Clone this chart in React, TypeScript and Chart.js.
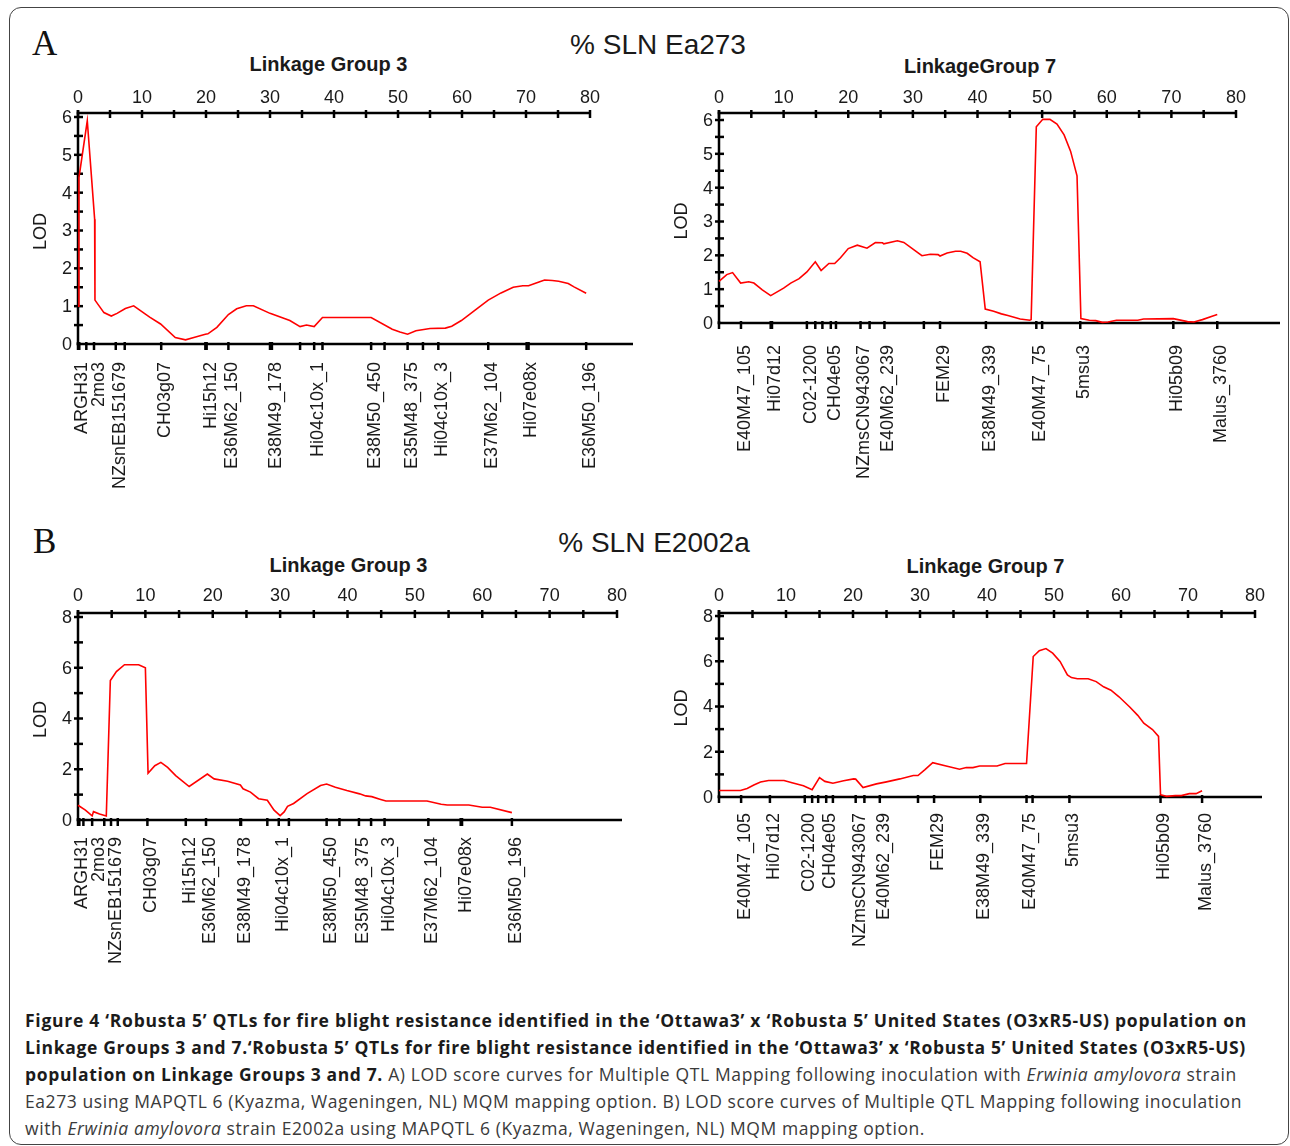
import React, { useEffect, useLayoutEffect, useRef } from 'react';
import { Chart, registerables } from 'chart.js';

Chart.register(...registerables);

// ---------------- DATA ----------------
// Axis tick labels
const X_TICK_LABELS = [0, 10, 20, 30, 40, 50, 60, 70, 80];
const Y_TICK_LABELS_A = [0, 1, 2, 3, 4, 5, 6];
const Y_TICK_LABELS_B = [0, 2, 4, 6, 8];

// A) % SLN Ea273 — Linkage Group 3
const A_LG3_CM = [0, 0.15, 1.45, 2.6, 2.65, 4.05, 5.2, 6.1, 7.4, 8.7, 11.2, 12.9, 15.2, 16.8, 18.1, 19.9, 20.3, 21.7, 23.5, 24.8, 26.3, 27.4, 30.0, 33.1, 34.7, 35.7, 36.9, 38.2, 45.8, 49.1, 50.3, 51.5, 52.8, 55.0, 57.4, 58.4, 59.9, 62.1, 64.1, 66.1, 68.0, 69.5, 70.4, 71.7, 72.9, 74.1, 75.1, 76.6, 77.5, 79.4];
const A_LG3_LOD = [1.0, 4.4, 5.9, 3.3, 1.16, 0.83, 0.74, 0.81, 0.94, 1.01, 0.71, 0.53, 0.17, 0.11, 0.17, 0.26, 0.27, 0.44, 0.78, 0.93, 1.01, 1.01, 0.81, 0.62, 0.46, 0.50, 0.46, 0.70, 0.70, 0.39, 0.32, 0.26, 0.35, 0.41, 0.42, 0.47, 0.62, 0.90, 1.16, 1.35, 1.50, 1.54, 1.54, 1.62, 1.69, 1.68, 1.66, 1.60, 1.51, 1.34];
const A_LG3_MARKER_CM = [0, 0.2, 1.3, 2.5, 5.9, 7.3, 13.0, 19.9, 20.1, 23.5, 30.0, 30.3, 34.7, 36.9, 38.2, 45.8, 47.9, 51.5, 53.9, 56.3, 64.1, 70.1, 70.4, 79.4];
const A_LG3_MARKER_NAMES = ['ARGH31', '', '', '2mo3', 'NZsnEB151679', '', 'CH03g07', '', 'Hi15h12', 'E36M62_150', '', 'E38M49_178', '', 'Hi04c10x_1', '', 'E38M50_450', '', 'E35M48_375', '', 'Hi04c10x_3', 'E37M62_104', 'Hi07e08x', '', 'E36M50_196'];

// A) % SLN Ea273 — Linkage Group 7
const A_LG7_CM = [0, 1.2, 2.1, 3.35, 4.6, 5.4, 6.7, 8.0, 10.0, 11.1, 12.4, 13.6, 14.9, 15.8, 17.0, 17.9, 18.8, 20.0, 21.4, 22.9, 24.2, 25.3, 25.5, 27.6, 28.6, 31.4, 32.7, 33.9, 34.2, 35.3, 36.6, 37.4, 38.4, 39.3, 40.4, 41.2, 42.5, 43.7, 44.7, 46.6, 48.1, 48.3, 49.1, 50.1, 51.2, 52.3, 53.4, 54.4, 55.4, 56.0, 57.3, 58.3, 59.3, 60.2, 61.5, 64.8, 65.7, 70.3, 72.5, 73.5, 74.8, 76.3, 77.1];
const A_LG7_LOD = [1.23, 1.43, 1.49, 1.18, 1.22, 1.18, 0.98, 0.81, 1.03, 1.18, 1.31, 1.51, 1.81, 1.55, 1.76, 1.76, 1.93, 2.2, 2.3, 2.21, 2.38, 2.37, 2.34, 2.43, 2.38, 1.99, 2.03, 2.02, 1.98, 2.07, 2.12, 2.12, 2.06, 1.93, 1.81, 0.41, 0.35, 0.27, 0.22, 0.12, 0.08, 0.10, 5.8, 6.02, 6.02, 5.88, 5.56, 5.08, 4.35, 0.13, 0.08, 0.07, 0.02, 0.03, 0.08, 0.08, 0.12, 0.13, 0.04, 0.03, 0.10, 0.20, 0.25];
const A_LG7_MARKER_CM = [0, 3.4, 8.0, 8.2, 13.6, 14.9, 16.0, 17.3, 18.1, 21.9, 23.3, 25.6, 31.7, 34.2, 41.3, 49.1, 50.0, 55.9, 70.3, 77.1];
const A_LG7_MARKER_NAMES = ['', 'E40M47_105', 'Hi07d12', '', 'C02-1200', '', '', 'CH04e05', '', 'NZmsCN943067', '', 'E40M62_239', '', 'FEM29', 'E38M49_339', 'E40M47_75', '', '5msu3', 'Hi05b09', 'Malus_3760'];

// B) % SLN E2002a — Linkage Group 3
const B_LG3_CM = [0, 1.1, 2.1, 2.3, 3.2, 4.2, 4.8, 5.7, 6.9, 9.0, 10.0, 10.4, 11.4, 12.3, 13.3, 14.5, 16.5, 19.2, 20.2, 22.2, 24.1, 24.5, 25.6, 26.8, 28.1, 29.1, 30.0, 30.6, 31.1, 32.0, 34.0, 36.0, 36.9, 38.2, 39.9, 41.8, 42.7, 43.6, 44.8, 45.7, 51.8, 53.9, 54.8, 58.0, 60.0, 61.2, 64.4];
const B_LG3_LOD = [0.58, 0.39, 0.16, 0.33, 0.24, 0.16, 5.5, 5.85, 6.12, 6.12, 6.0, 1.84, 2.14, 2.27, 2.07, 1.75, 1.32, 1.81, 1.62, 1.53, 1.38, 1.23, 1.10, 0.84, 0.78, 0.39, 0.17, 0.32, 0.54, 0.65, 1.04, 1.36, 1.42, 1.29, 1.16, 1.03, 0.95, 0.92, 0.82, 0.75, 0.75, 0.62, 0.59, 0.59, 0.50, 0.50, 0.29];
const B_LG3_MARKER_CM = [0, 0.2, 0.8, 2.1, 3.9, 4.9, 5.9, 10.3, 16.0, 19.0, 24.1, 24.2, 28.1, 29.8, 31.3, 36.9, 38.8, 41.7, 43.5, 45.5, 52.0, 56.8, 57.0, 64.4];
const B_LG3_MARKER_NAMES = ['ARGH31', '', '', '2mo3', '', 'NZsnEB151679', '', 'CH03g07', 'Hi15h12', 'E36M62_150', '', 'E38M49_178', '', 'Hi04c10x_1', '', 'E38M50_450', '', 'E35M48_375', '', 'Hi04c10x_3', 'E37M62_104', '', 'Hi07e08x', 'E36M50_196'];

// B) % SLN E2002a — Linkage Group 7
const B_LG7_CM = [0, 3.2, 4.2, 5.2, 6.2, 7.4, 9.7, 10.9, 12.6, 13.9, 15.0, 15.8, 17.0, 18.6, 20.1, 20.4, 21.5, 23.5, 25.0, 27.0, 29.0, 29.7, 30.7, 31.9, 33.9, 35.9, 36.9, 37.9, 38.9, 41.5, 42.7, 45.9, 46.9, 47.8, 48.8, 49.8, 50.9, 52.0, 52.6, 53.5, 55.1, 56.3, 57.4, 58.5, 59.7, 61.3, 62.5, 63.4, 64.7, 65.6, 65.9, 66.8, 68.1, 69.0, 70.2, 71.2, 72.1];
const B_LG7_LOD = [0.29, 0.29, 0.38, 0.53, 0.66, 0.73, 0.73, 0.63, 0.50, 0.32, 0.86, 0.69, 0.61, 0.72, 0.80, 0.79, 0.42, 0.58, 0.67, 0.80, 0.95, 0.95, 1.20, 1.52, 1.37, 1.23, 1.30, 1.30, 1.37, 1.37, 1.48, 1.48, 6.21, 6.47, 6.56, 6.36, 5.99, 5.40, 5.28, 5.23, 5.23, 5.10, 4.87, 4.72, 4.43, 3.98, 3.61, 3.26, 2.98, 2.68, 0.10, 0.03, 0.06, 0.06, 0.15, 0.15, 0.28];
const B_LG7_MARKER_CM = [0, 3.3, 7.6, 12.8, 13.9, 14.8, 16.0, 17.0, 20.4, 21.7, 24.0, 29.7, 32.1, 39.0, 45.9, 46.8, 52.3, 65.9, 72.1];
const B_LG7_MARKER_NAMES = ['', 'E40M47_105', 'Hi07d12', 'C02-1200', '', '', 'CH04e05', '', 'NZmsCN943067', '', 'E40M62_239', '', 'FEM29', 'E38M49_339', 'E40M47_75', '', '5msu3', 'Hi05b09', 'Malus_3760'];

// ---------------- LAYOUT ----------------
const FONT = '"Liberation Sans", Arial, Helvetica, sans-serif';
const TEXT = '#1a1a1a';

type Box = { left: number; top: number; width: number; height: number };
type Area = { left: number; top: number; right: number; bottom: number };
type Panel = {
  key: string;
  canvas: Box;
  area: Area;
  yMax: number;
  yLabels: number[];
  baseEnd: number;
  topLabelGap: number;
  markerLabelGap: number;
  cm: number[];
  lod: number[];
  markerCm: number[];
  markerNames: string[];
};

const PANELS: Panel[] = [
  {
    key: 'aL', canvas: { left: 20, top: 80, width: 620, height: 420 },
    area: { left: 78, top: 113, right: 590, bottom: 344 }, yMax: 6.106, yLabels: Y_TICK_LABELS_A,
    baseEnd: 633, topLabelGap: 10, markerLabelGap: 18,
    cm: A_LG3_CM, lod: A_LG3_LOD, markerCm: A_LG3_MARKER_CM, markerNames: A_LG3_MARKER_NAMES,
  },
  {
    key: 'aR', canvas: { left: 650, top: 80, width: 640, height: 420 },
    area: { left: 719, top: 113, right: 1236, bottom: 323 }, yMax: 6.207, yLabels: Y_TICK_LABELS_A,
    baseEnd: 1280, topLabelGap: 10, markerLabelGap: 22,
    cm: A_LG7_CM, lod: A_LG7_LOD, markerCm: A_LG7_MARKER_CM, markerNames: A_LG7_MARKER_NAMES,
  },
  {
    key: 'bL', canvas: { left: 20, top: 575, width: 620, height: 415 },
    area: { left: 78, top: 613, right: 617, bottom: 820 }, yMax: 8.158, yLabels: Y_TICK_LABELS_B,
    baseEnd: 622, topLabelGap: 12, markerLabelGap: 17,
    cm: B_LG3_CM, lod: B_LG3_LOD, markerCm: B_LG3_MARKER_CM, markerNames: B_LG3_MARKER_NAMES,
  },
  {
    key: 'bR', canvas: { left: 650, top: 575, width: 640, height: 415 },
    area: { left: 719, top: 613, right: 1255, bottom: 797 }, yMax: 8.133, yLabels: Y_TICK_LABELS_B,
    baseEnd: 1262, topLabelGap: 12, markerLabelGap: 16,
    cm: B_LG7_CM, lod: B_LG7_LOD, markerCm: B_LG7_MARKER_CM, markerNames: B_LG7_MARKER_NAMES,
  },
];

function makeAxesPlugin(p: Panel) {
  return {
    id: 'qtlAxes_' + p.key,
    beforeDatasetsDraw(chart: any) {
      const ctx: CanvasRenderingContext2D = chart.ctx;
      const xs = chart.scales.x;
      const ys = chart.scales.y;
      const X = (v: number) => xs.getPixelForValue(v);
      const Y = (v: number) => ys.getPixelForValue(v);
      const xMaxLabel = X_TICK_LABELS[X_TICK_LABELS.length - 1];
      const left = X(0);
      const right = X(xMaxLabel);
      const top = Y(ys.max);
      const base = Y(0);
      const baseEnd = p.baseEnd - p.canvas.left;

      ctx.save();
      ctx.strokeStyle = '#000';
      ctx.lineWidth = 2.5;
      ctx.lineCap = 'butt';
      const seg = (x1: number, y1: number, x2: number, y2: number) => {
        ctx.beginPath();
        ctx.moveTo(x1, y1);
        ctx.lineTo(x2, y2);
        ctx.stroke();
      };

      // axis lines
      seg(left - 1.25, top, right + 1, top);
      seg(left, top - 3, left, base + 1.25);
      seg(left - 1.25, base, baseEnd, base);

      // top (cM) ticks every half label step
      const xStep = (X_TICK_LABELS[1] - X_TICK_LABELS[0]) / 2;
      for (let v = X_TICK_LABELS[0]; v <= xMaxLabel + 1e-9; v += xStep) {
        seg(X(v), top - 3, X(v), top + 5);
      }
      // left (LOD) ticks every half label step
      const yStep = (p.yLabels[1] - p.yLabels[0]) / 2;
      for (let v = yStep; v <= p.yLabels[p.yLabels.length - 1] + 1e-9; v += yStep) {
        seg(left - 4, Y(v), left + 5, Y(v));
      }
      // marker ticks on the baseline
      p.markerCm.forEach((c) => seg(X(c), base - 2, X(c), base + 6));

      // tick labels
      ctx.fillStyle = TEXT;
      ctx.font = `18px ${FONT}`;
      ctx.textAlign = 'center';
      ctx.textBaseline = 'alphabetic';
      X_TICK_LABELS.forEach((v) => ctx.fillText(String(v), X(v), top - p.topLabelGap));
      ctx.textAlign = 'right';
      ctx.textBaseline = 'middle';
      p.yLabels.forEach((v) => ctx.fillText(String(v), left - 6, Y(v) + 1));

      // LOD title
      ctx.save();
      ctx.translate(left - 37, (top + base) / 2 + 3);
      ctx.rotate(-Math.PI / 2);
      ctx.textAlign = 'center';
      ctx.textBaseline = 'middle';
      ctx.fillText('LOD', 0, 0);
      ctx.restore();

      // marker names, rotated, ends aligned just under the baseline
      let prev = -1e9;
      p.markerCm.forEach((c, i) => {
        const name = p.markerNames[i];
        if (!name) return;
        const lx = Math.max(X(c) + 4, prev + 17);
        prev = lx;
        ctx.save();
        ctx.translate(lx, base + p.markerLabelGap);
        ctx.rotate(-Math.PI / 2);
        ctx.textAlign = 'right';
        ctx.textBaseline = 'middle';
        ctx.fillText(name, 0, 0);
        ctx.restore();
      });
      ctx.restore();
    },
  };
}

function buildChart(canvas: HTMLCanvasElement, p: Panel) {
  return new Chart(canvas, {
    type: 'line',
    data: {
      datasets: [
        {
          data: p.cm.map((x, i) => ({ x, y: p.lod[i] })),
          borderColor: '#ff0000',
          borderWidth: 1.6,
          pointRadius: 0,
          tension: 0,
          fill: false,
          clip: false as any,
        } as any,
      ],
    },
    options: {
      animation: false,
      responsive: false,
      maintainAspectRatio: false,
      events: [],
      layout: {
        padding: {
          left: p.area.left - p.canvas.left,
          top: p.area.top - p.canvas.top,
          right: p.canvas.left + p.canvas.width - p.area.right,
          bottom: p.canvas.top + p.canvas.height - p.area.bottom,
        },
      },
      scales: {
        x: { type: 'linear', min: X_TICK_LABELS[0], max: X_TICK_LABELS[X_TICK_LABELS.length - 1], display: false },
        y: { type: 'linear', min: 0, max: p.yMax, display: false },
      },
      plugins: { legend: { display: false }, tooltip: { enabled: false }, title: { display: false } },
    },
    plugins: [makeAxesPlugin(p)],
  });
}

const CAPTION_TARGETS = [1222, 1221, 1212, 1217, 900];

function Caption() {
  const refs = useRef<(HTMLSpanElement | null)[]>([]);
  useLayoutEffect(() => {
    const fit = () => {
      refs.current.forEach((el, i) => {
        if (!el) return;
        el.style.letterSpacing = '0px';
        const w = el.getBoundingClientRect().width;
        const n = (el.textContent || '').length;
        if (n > 0) el.style.letterSpacing = ((CAPTION_TARGETS[i] - w) / n).toFixed(3) + 'px';
      });
    };
    fit();
    if ((document as any).fonts && (document as any).fonts.ready) (document as any).fonts.ready.then(fit);
  }, []);
  const B = (t: string) => <b style={{ fontWeight: 700, color: '#1b1b1b' }}>{t}</b>;
  const I = (t: string) => <i>{t}</i>;
  const lines: React.ReactNode[] = [
    B('Figure 4 \u2018Robusta 5\u2019 QTLs for fire blight resistance identified in the \u2018Ottawa3\u2019 x \u2018Robusta 5\u2019 United States (O3xR5-US) population on'),
    B('Linkage Groups 3 and 7.\u2018Robusta 5\u2019 QTLs for fire blight resistance identified in the \u2018Ottawa3\u2019 x \u2018Robusta 5\u2019 United States (O3xR5-US)'),
    <>{B('population on Linkage Groups 3 and 7.')} A) LOD score curves for Multiple QTL Mapping following inoculation with {I('Erwinia amylovora')} strain</>,
    <>Ea273 using MAPQTL 6 (Kyazma, Wageningen, NL) MQM mapping option. B) LOD score curves of Multiple QTL Mapping following inoculation</>,
    <>with {I('Erwinia amylovora')} strain E2002a using MAPQTL 6 (Kyazma, Wageningen, NL) MQM mapping option.</>,
  ];
  return (
    <div style={{ position: 'absolute', left: 25, top: 1006.5, fontFamily: '"Open Sans", "Noto Sans", sans-serif', fontSize: 17.5, lineHeight: '27px', color: '#3a3a3a' }}>
      {lines.map((l, i) => (
        <div key={i} style={{ whiteSpace: 'nowrap', height: 27 }}>
          <span ref={(el) => { refs.current[i] = el; }} style={{ display: 'inline-block' }}>{l}</span>
        </div>
      ))}
    </div>
  );
}

export default function App() {
  const canvasRefs = useRef<(HTMLCanvasElement | null)[]>([]);
  useEffect(() => {
    const charts = PANELS.map((p, i) => buildChart(canvasRefs.current[i] as HTMLCanvasElement, p));
    return () => charts.forEach((c) => c.destroy());
  }, []);

  const abs = (o: React.CSSProperties): React.CSSProperties => ({ position: 'absolute', margin: 0, lineHeight: 1, ...o });
  const centered = (cx: number, top: number, size: number, bold: boolean, text: string) => (
    <div style={abs({ left: cx - 250, top, width: 500, textAlign: 'center', fontFamily: FONT, fontSize: size, fontWeight: bold ? 700 : 400, color: TEXT, whiteSpace: 'nowrap' })}>{text}</div>
  );

  return (
    <div style={{ position: 'absolute', left: 0, top: 0, width: 1290, height: 1146, overflow: 'hidden', background: '#fff' }}>
      <div style={abs({ left: 9, top: 7, width: 1280, height: 1138, border: '1.5px solid #444', borderRadius: 12, boxSizing: 'border-box' })} />
      <div style={abs({ left: 32, top: 26, fontFamily: '"Liberation Serif", "Times New Roman", serif', fontSize: 35, color: '#111' })}>A</div>
      <div style={abs({ left: 33, top: 524, fontFamily: '"Liberation Serif", "Times New Roman", serif', fontSize: 35, color: '#111' })}>B</div>
      {centered(658, 31.4, 28, false, '% SLN Ea273')}
      {centered(654, 529.4, 28, false, '% SLN E2002a')}
      {centered(328.5, 54.4, 20, true, 'Linkage Group 3')}
      {centered(980, 55.7, 20, true, 'LinkageGroup 7')}
      {centered(348.5, 555.4, 20, true, 'Linkage Group 3')}
      {centered(985.5, 556.4, 20, true, 'Linkage Group 7')}
      {PANELS.map((p, i) => (
        <canvas
          key={p.key}
          ref={(el) => { canvasRefs.current[i] = el; }}
          width={p.canvas.width}
          height={p.canvas.height}
          style={{ position: 'absolute', left: p.canvas.left, top: p.canvas.top, width: p.canvas.width, height: p.canvas.height }}
        />
      ))}
      <Caption />
    </div>
  );
}
